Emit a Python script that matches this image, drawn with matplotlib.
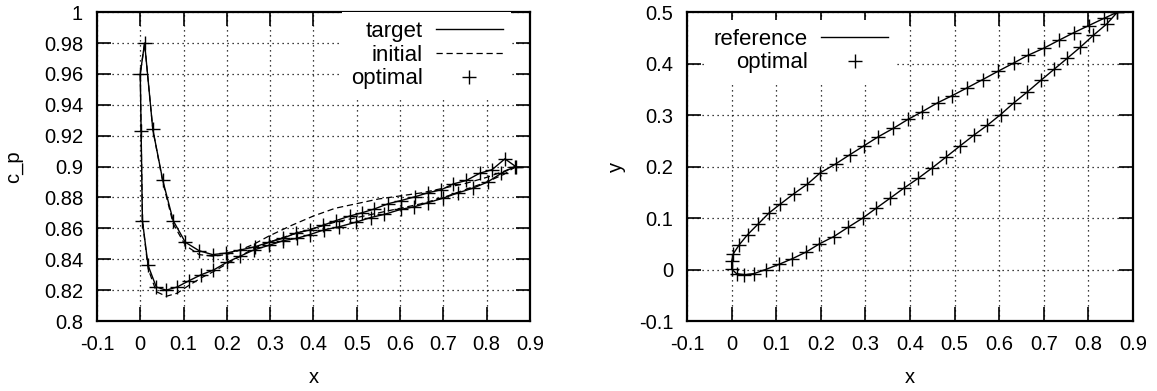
import matplotlib
matplotlib.use("Agg")
import matplotlib.pyplot as plt

plt.rcParams['font.family'] = ['Liberation Sans', 'DejaVu Sans']
plt.rcParams['font.size'] = 14.5

# pressure coefficient, branch with the leading-edge peak (A), LE -> TE
cp_a_x = [0.010, 0.029, 0.052, 0.076, 0.104, 0.136, 0.167, 0.199, 0.231, 0.264,
          0.297, 0.329, 0.360, 0.392, 0.422, 0.452, 0.484, 0.511, 0.540, 0.573,
          0.602, 0.635, 0.664, 0.695, 0.722, 0.753, 0.784, 0.8125, 0.842, 0.867]
cp_a_y = [0.980, 0.924, 0.891, 0.865, 0.851, 0.8455, 0.843, 0.844, 0.846, 0.848,
          0.851, 0.8535, 0.857, 0.859, 0.862, 0.865, 0.868, 0.870, 0.8725, 0.876,
          0.878, 0.8805, 0.883, 0.885, 0.8887, 0.891, 0.8957, 0.898, 0.905, 0.900]

# other branch (B), LE -> TE
cp_b_x = [0.0, 0.002, 0.005, 0.018, 0.037, 0.060, 0.085, 0.112, 0.141, 0.169,
          0.200, 0.231, 0.262, 0.297, 0.330, 0.361, 0.392, 0.424, 0.459, 0.498,
          0.532, 0.563, 0.602, 0.633, 0.664, 0.699, 0.734, 0.768, 0.802, 0.834, 0.865]
cp_b_y = [0.960, 0.923, 0.865, 0.836, 0.822, 0.820, 0.822, 0.826, 0.830, 0.833,
          0.838, 0.842, 0.846, 0.849, 0.852, 0.8535, 0.856, 0.859, 0.861, 0.864,
          0.867, 0.869, 0.8723, 0.874, 0.8766, 0.8795, 0.883, 0.886, 0.890, 0.8957, 0.900]

# initial design
init_a_x = [0.010, 0.029, 0.052, 0.076, 0.104, 0.136, 0.167, 0.199, 0.231, 0.264,
            0.297, 0.35, 0.40, 0.45, 0.50, 0.55, 0.60, 0.65, 0.70, 0.75, 0.80, 0.84, 0.867]
init_a_y = [0.980, 0.924, 0.890, 0.863, 0.849, 0.843, 0.842, 0.843, 0.846, 0.850,
            0.855, 0.862, 0.868, 0.873, 0.876, 0.879, 0.881, 0.883, 0.886, 0.889,
            0.893, 0.897, 0.900]
init_b_x = [0.0, 0.002, 0.005, 0.018, 0.037, 0.060, 0.085, 0.112, 0.141, 0.169,
            0.200, 0.231, 0.262, 0.297, 0.35, 0.40, 0.45, 0.50, 0.55, 0.60, 0.65,
            0.70, 0.75, 0.80, 0.84, 0.867]
init_b_y = [0.960, 0.923, 0.865, 0.834, 0.819, 0.816, 0.818, 0.823, 0.828, 0.832,
            0.837, 0.842, 0.847, 0.851, 0.856, 0.860, 0.864, 0.867, 0.870, 0.873,
            0.876, 0.880, 0.885, 0.890, 0.895, 0.900]

# airfoil geometry, LE -> TE
up_x = [0.0, 0.004, 0.017, 0.036, 0.059, 0.084, 0.109, 0.139, 0.170, 0.199,
        0.233, 0.265, 0.296, 0.329, 0.362, 0.396, 0.426, 0.462, 0.495, 0.528,
        0.563, 0.597, 0.632, 0.664, 0.700, 0.733, 0.767, 0.801, 0.835, 0.865]
up_y = [0.016, 0.031, 0.048, 0.068, 0.088, 0.110, 0.127, 0.147, 0.166, 0.188,
        0.205, 0.223, 0.240, 0.258, 0.274, 0.292, 0.306, 0.324, 0.338, 0.353,
        0.369, 0.385, 0.401, 0.416, 0.430, 0.445, 0.460, 0.474, 0.488, 0.500]
lo_x = [0.0, 0.011, 0.028, 0.050, 0.076, 0.106, 0.136, 0.167, 0.197, 0.229,
        0.261, 0.294, 0.324, 0.356, 0.386, 0.418, 0.449, 0.480, 0.512, 0.543,
        0.573, 0.603, 0.633, 0.663, 0.694, 0.723, 0.752, 0.782, 0.811, 0.841, 0.865]
lo_y = [0.001, -0.008, -0.010, -0.008, 0.0, 0.010, 0.021, 0.034, 0.050, 0.064,
        0.082, 0.100, 0.119, 0.139, 0.158, 0.177, 0.197, 0.218, 0.240, 0.261,
        0.280, 0.301, 0.324, 0.345, 0.368, 0.389, 0.410, 0.432, 0.455, 0.477, 0.500]

x_ticks = [-0.1, 0, 0.1, 0.2, 0.3, 0.4, 0.5, 0.6, 0.7, 0.8, 0.9]
x_ticklabels = ['-0.1', '0', '0.1', '0.2', '0.3', '0.4', '0.5', '0.6', '0.7', '0.8', '0.9']
cp_ticks = [0.8, 0.82, 0.84, 0.86, 0.88, 0.9, 0.92, 0.94, 0.96, 0.98, 1.0]
cp_ticklabels = ['0.8', '0.82', '0.84', '0.86', '0.88', '0.9', '0.92', '0.94', '0.96', '0.98', '1']
y_ticks = [-0.1, 0, 0.1, 0.2, 0.3, 0.4, 0.5]
y_ticklabels = ['-0.1', '0', '0.1', '0.2', '0.3', '0.4', '0.5']


def style_axes(ax):
    ax.grid(True, color='black', linestyle=(0, (1, 3)), linewidth=0.9)
    ax.tick_params(direction='in', top=True, right=True, length=10, width=1.2,
                   pad=10, labelsize=14.5)
    for s in ax.spines.values():
        s.set_linewidth(1.6)


legend_kw = dict(markerfirst=False, frameon=True, facecolor='white',
                 edgecolor='none', framealpha=1, fancybox=False, handlelength=3.0,
                 handletextpad=0.6, labelspacing=0.12, borderaxespad=0.0,
                 borderpad=0.4, fontsize=16)

fig = plt.figure(figsize=(11.57, 3.91), dpi=100)
ax1 = fig.add_axes([0.0838, 0.179, 0.3743, 0.790])
ax2 = fig.add_axes([0.5938, 0.179, 0.3855, 0.790])

mk = dict(marker='+', markersize=9.5, markeredgewidth=1.0, color='black', linestyle='none')

# left: pressure distribution
tx = list(reversed(cp_b_x)) + cp_a_x
ty = list(reversed(cp_b_y)) + cp_a_y
ix = list(reversed(init_b_x)) + init_a_x
iy = list(reversed(init_b_y)) + init_a_y
ax1.plot(tx, ty, color='black', linewidth=1.0, label='target')
ax1.plot(ix, iy, color='black', linewidth=0.9, dashes=(5, 3), label='initial')
ax1.plot(tx, ty, label='optimal', **mk)
ax1.set_xlim(-0.1, 0.9)
ax1.set_ylim(0.8, 1.0)
ax1.set_xticks(x_ticks, x_ticklabels)
ax1.set_yticks(cp_ticks, cp_ticklabels)
ax1.set_xlabel('x', labelpad=10)
ax1.set_ylabel('c_p', labelpad=15)
style_axes(ax1)
ax1.legend(loc='upper right', bbox_to_anchor=(0.957, 1.0), **legend_kw)

# right: airfoil shape
gx = list(reversed(up_x)) + lo_x
gy = list(reversed(up_y)) + lo_y
ax2.plot(gx, gy, color='black', linewidth=1.0, label='reference')
ax2.plot(gx, gy, label='optimal', **mk)
ax2.set_xlim(-0.1, 0.9)
ax2.set_ylim(-0.1, 0.5)
ax2.set_xticks(x_ticks, x_ticklabels)
ax2.set_yticks(y_ticks, y_ticklabels)
ax2.set_xlabel('x', labelpad=10)
ax2.set_ylabel('y', labelpad=9)
style_axes(ax2)
ax2.legend(loc='upper left', bbox_to_anchor=(0.04, 0.975), **legend_kw)

fig.savefig('out.png', dpi=100)
